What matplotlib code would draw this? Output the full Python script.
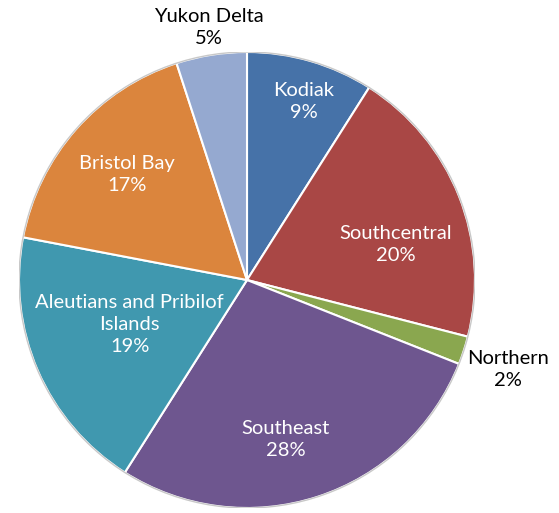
import numpy as np
import matplotlib
matplotlib.use("Agg")
import matplotlib.pyplot as plt

regions = ["Kodiak", "Southcentral", "Northern", "Southeast",
           "Aleutians and Pribilof\nIslands", "Bristol Bay", "Yukon Delta"]
shares = [9, 20, 2, 28, 19, 17, 5]

colors = ["#4672a8", "#a94745", "#8aa74f", "#6e568f",
          "#4098af", "#db853d", "#95a9d0"]
# label placement: (radius, angle offset in degrees), outside labels are dark
label_pos = [(0.82, 1.5), (0.67, 8.0), (1.21, 1.0), (0.72, 4.5),
             (0.55, 2.5), (0.70, 0.0), (1.12, 0.5)]
inside = [True, True, False, True, True, True, False]

plt.rcParams["font.family"] = ["Lato", "DejaVu Sans"]

fig = plt.figure(figsize=(5.59, 5.13), dpi=100)
ax = fig.add_axes([19 / 559, 5 / 513, 456 / 559, 456 / 513])

wedges, _ = ax.pie(shares, colors=colors, startangle=90, counterclock=False,
                   radius=1.0, wedgeprops=dict(edgecolor="white", linewidth=1.5))

total = sum(shares)
start = 0.0
for name, val, (r, off), ins in zip(regions, shares, label_pos, inside):
    mid = (start + val / 2) / total * 360 + off
    start += val
    x = r * np.sin(np.radians(mid))
    y = r * np.cos(np.radians(mid))
    ax.text(x, y, f"{name}\n{val}%", ha="center", va="center",
            fontsize=14.5, color="white" if ins else "black",
            linespacing=1.35, clip_on=False)

# faint grey rim around the pie
ax.add_patch(plt.Circle((0, 0), 1.0, fill=False, edgecolor="#c8c8c8", linewidth=1.0))
ax.set_xlim(-1, 1)
ax.set_ylim(-1, 1)
ax.set_aspect("equal")
ax.axis("off")

fig.savefig("out.png", dpi=100)
